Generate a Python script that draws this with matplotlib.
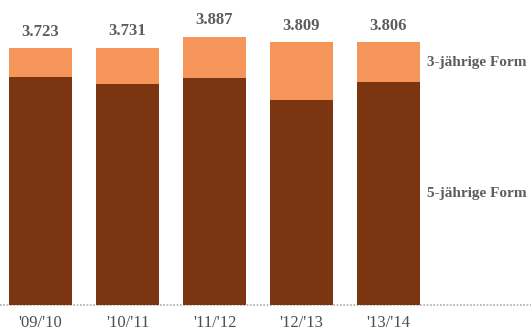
import matplotlib
matplotlib.use("Agg")
import matplotlib.pyplot as plt
import numpy as np

# School years and enrolment split by programme length
years = ["'09/'10", "'10/'11", "'11/'12", "'12/'13", "'13/'14"]
five_year = [3310, 3205, 3292, 2966, 3225]
three_year = [413, 526, 595, 843, 581]
series_names = ["5-jährige Form", "3-jährige Form"]

dark = "#7B3511"
light = "#F6955A"
text_grey = "#5B5E5B"

totals = [a + b for a, b in zip(five_year, three_year)]

def de_thousands(v):
    return f"{v:,}".replace(",", ".")

plt.rcParams["font.family"] = ["Liberation Serif", "DejaVu Serif"]

fig = plt.figure(figsize=(5.31, 3.32), dpi=100)
ax = fig.add_axes([0.0, 27 / 332, 1.0, 305 / 332])

x = np.arange(len(years))
w = 0.72
ax.bar(x, five_year, width=w, color=dark, linewidth=0, zorder=3)
ax.bar(x, three_year, width=w, bottom=five_year, color=light, linewidth=0, zorder=3)

for xi, t in zip(x, totals):
    ax.annotate(de_thousands(t), (xi, t), xytext=(0, 6), textcoords="offset points",
                ha="center", va="bottom", fontsize=12, fontweight="bold", color=text_grey)

# series names beside the last bar
last = len(years) - 1
ax.text(last + w / 2 + 0.08, five_year[last] / 2, series_names[0],
        ha="left", va="center", fontsize=11, fontweight="bold", color=text_grey)
ax.text(last + w / 2 + 0.08, five_year[last] + three_year[last] / 2, series_names[1],
        ha="left", va="center", fontsize=11, fontweight="bold", color=text_grey)

# dotted baseline across the full width
ax.axhline(0, color="#ababab", linestyle=(0, (1, 1)), linewidth=1.2, zorder=1, clip_on=False)

for xi, lab in zip(x, years):
    ax.annotate(lab, (xi, 0), xytext=(0, -7.5), textcoords="offset points",
                ha="center", va="top", fontsize=12, color="#4d4d4d")

ax.set_xlim(-40.5 / 87, (531 - 40.5) / 87)
ax.set_ylim(0, 305 / 0.069)
ax.axis("off")

fig.savefig("out.png", dpi=100, facecolor="white")
